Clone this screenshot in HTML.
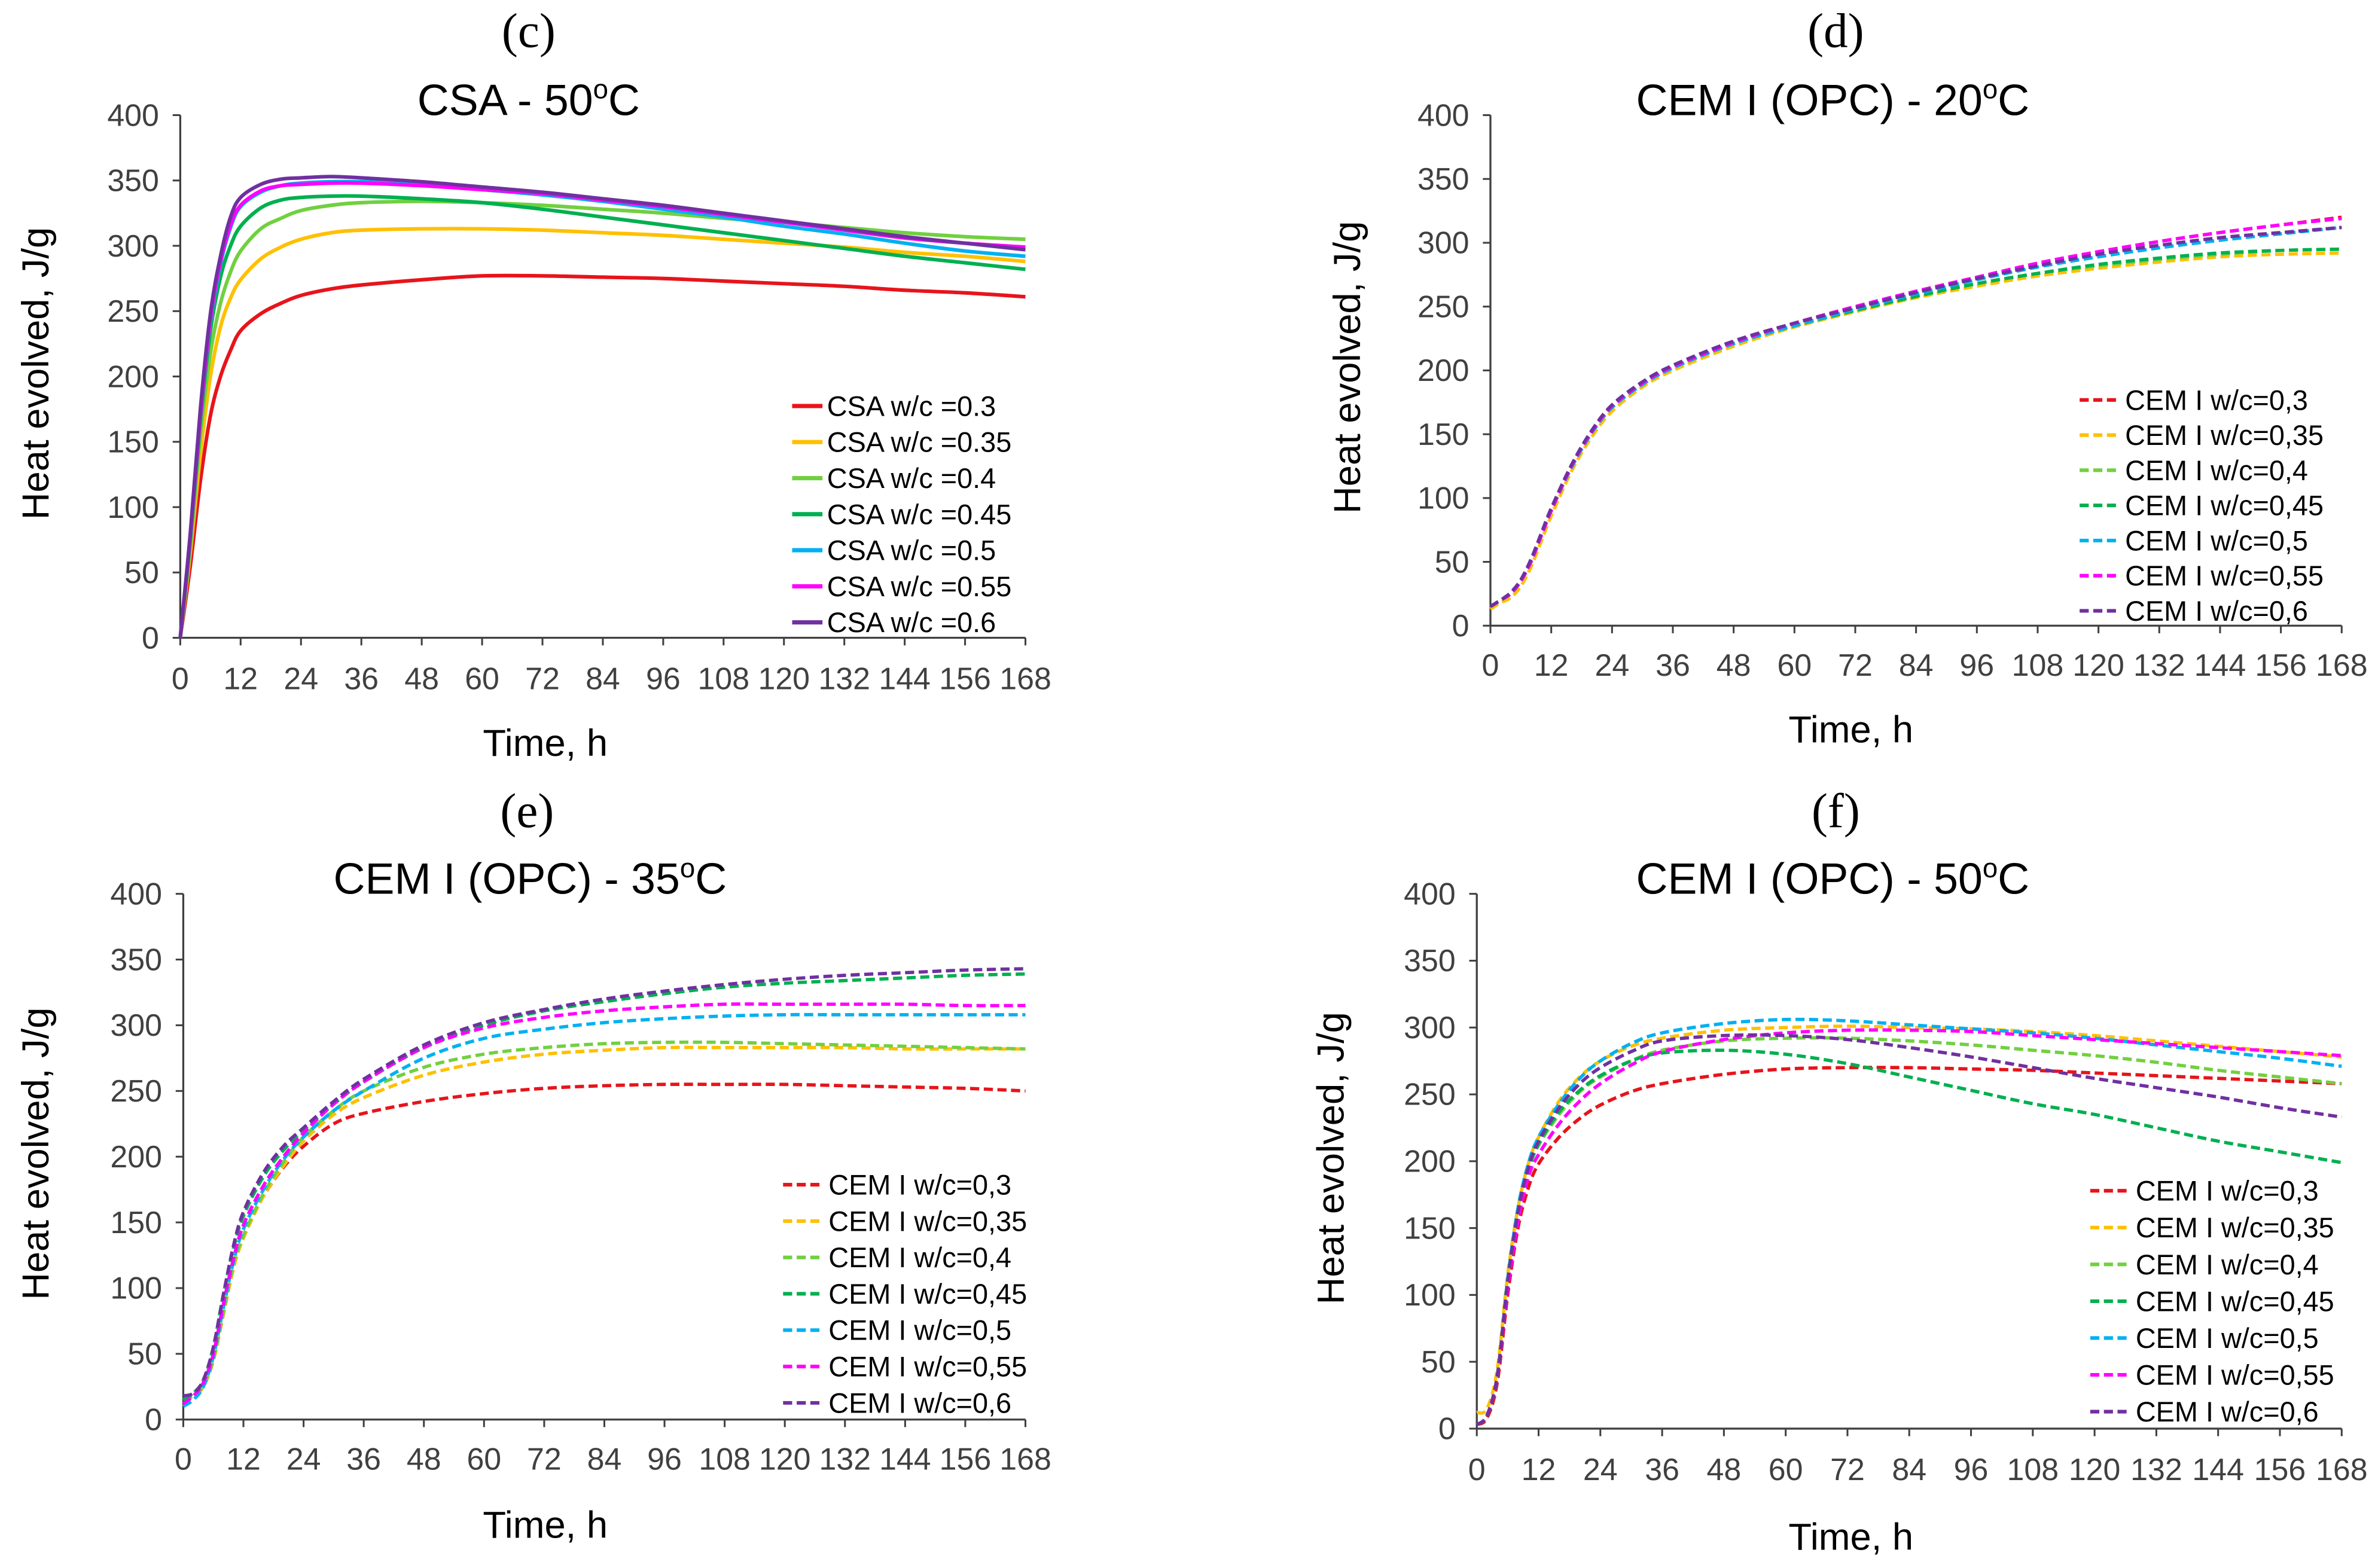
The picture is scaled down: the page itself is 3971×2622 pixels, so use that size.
<!DOCTYPE html>
<html><head><meta charset="utf-8"><style>
html,body{margin:0;padding:0;background:#fff;}
svg{display:block;}
</style></head><body>
<svg id="fig" width="3971" height="2622" viewBox="0 0 1568 1035" preserveAspectRatio="none" xmlns="http://www.w3.org/2000/svg"></svg>
<script>
const times = [0,2,4,6,8,10,12,16,20,24,30,36,48,60,72,84,96,108,120,132,144,156,168];
const xTicks = [0,12,24,36,48,60,72,84,96,108,120,132,144,156,168];
const yTicks = [0,50,100,150,200,250,300,350,400];
const colors = ["#e8141b","#ffc000","#70d040","#00b050","#00b0f0","#ff00ff","#7030a0"];
const csaNames = ["CSA w/c =0.3","CSA w/c =0.35","CSA w/c =0.4","CSA w/c =0.45","CSA w/c =0.5","CSA w/c =0.55","CSA w/c =0.6"];
const cemNames = ["CEM I w/c=0,3","CEM I w/c=0,35","CEM I w/c=0,4","CEM I w/c=0,45","CEM I w/c=0,5","CEM I w/c=0,55","CEM I w/c=0,6"];
const csa50 = [
[0,55,120,170,200,220,235,248,256,262,267,270,274,277,277,276,275,273,271,269,266,264,261],
[0,65,140,200,238,260,274,290,299,305,310,312,313,313,312,310,308,305,302,299,295,292,288],
[0,70,155,218,256,280,296,313,321,327,331,333,334,333,331,328,325,321,318,314,310,307,305],
[0,75,165,235,276,300,315,329,335,337,338,338,336,333,328,322,316,310,304,298,292,287,282],
[0,78,170,242,286,314,330,341,346,348,349,349,347,343,339,334,328,322,315,309,302,296,292],
[0,78,170,244,288,316,331,342,346,347,348,348,346,343,340,335,330,324,318,312,306,302,299],
[0,80,175,248,292,322,337,347,351,352,353,352,349,345,341,336,331,325,319,313,307,302,297]];
const opc20 = [
[15,20,25,35,50,70,90,125,152,172,190,203,222,237,250,262,273,284,293,301,308,314,320],
[13,18,22,31,46,66,86,121,148,168,187,200,219,234,246,257,266,274,280,285,289,291,292],
[15,20,25,35,50,70,90,124,151,171,189,202,221,235,247,258,268,276,282,287,291,294,295],
[15,20,25,35,50,70,90,124,151,171,189,202,221,235,247,258,268,276,283,288,292,294,295],
[15,20,25,35,50,70,90,124,151,171,189,202,221,235,248,260,271,281,289,296,302,307,312],
[15,20,25,35,50,70,90,125,152,172,190,203,222,237,250,262,273,284,293,301,308,314,319],
[15,20,26,36,52,72,92,126,153,173,191,204,223,237,249,261,272,282,291,298,304,308,312]];
const opc35 = [
[15,18,25,45,80,115,140,170,192,208,225,233,242,248,252,254,255,255,255,254,253,252,250],
[15,18,25,45,80,115,138,170,193,212,232,245,262,272,278,281,283,283,283,283,282,282,282],
[15,18,26,46,82,118,140,172,196,215,235,250,268,278,283,286,287,287,286,285,284,283,282],
[15,20,30,55,95,130,155,185,205,220,240,257,283,300,311,318,324,329,332,334,336,338,339],
[10,15,25,48,85,120,145,175,198,215,235,250,275,290,297,302,305,307,308,308,308,308,308],
[12,18,28,50,88,122,148,178,200,218,240,257,283,298,306,311,314,316,316,316,316,315,315],
[18,20,30,55,95,132,158,188,208,222,242,259,285,302,312,320,326,331,335,338,340,342,343]];
const opc50 = [
[3,8,35,100,150,180,198,218,232,242,252,258,265,269,270,270,269,268,266,264,262,260,258],
[12,15,45,115,165,198,218,245,263,275,286,292,298,300,301,300,299,297,294,290,286,282,278],
[3,10,40,110,160,193,212,235,252,263,275,283,290,292,292,290,287,283,279,274,268,263,258],
[3,10,40,110,160,193,213,237,253,264,275,281,283,280,273,263,253,243,235,225,215,207,199],
[3,10,40,112,165,198,218,243,262,275,288,296,303,306,305,302,299,296,292,287,282,277,271],
[3,10,40,105,155,188,205,228,245,258,272,282,291,296,298,298,297,294,291,288,285,282,279],
[3,10,40,110,162,195,215,240,258,270,282,290,294,294,291,285,278,270,262,255,248,240,233]];

const NS="http://www.w3.org/2000/svg";
const svg=document.getElementById('fig');
function mk(tag,attrs,parent){const e=document.createElementNS(NS,tag);for(const k in attrs)e.setAttribute(k,attrs[k]);(parent||svg).appendChild(e);return e;}

const panels=[
 {id:'c',letter:'(c)',lx:349,ly:31,title:'CSA - 50',tx:349,ty:76,x0:119,x1:677,y0:421,y1:76,data:csa50,names:csaNames,dash:false,legX:523,legY:268,legStep:23.8,xtY:455,xlX:360,xlY:499,ylX:32},
 {id:'d',letter:'(d)',lx:1212,ly:31,title:'CEM I (OPC) - 20',tx:1210,ty:76,x0:984,x1:1546,y0:413,y1:76,data:opc20,names:cemNames,dash:true,legX:1373,legY:264,legStep:23.2,xtY:446,xlX:1222,xlY:490,ylX:898},
 {id:'e',letter:'(e)',lx:348,ly:546,title:'CEM I (OPC) - 35',tx:350,ty:590,x0:121,x1:677,y0:937,y1:590,data:opc35,names:cemNames,dash:true,legX:517,legY:782,legStep:24,xtY:970,xlX:360,xlY:1015,ylX:32},
 {id:'f',letter:'(f)',lx:1212,ly:546,title:'CEM I (OPC) - 50',tx:1210,ty:590,x0:975,x1:1546,y0:943,y1:590,data:opc50,names:cemNames,dash:true,legX:1380,legY:786,legStep:24.3,xtY:977,xlX:1222,xlY:1023,ylX:887}
];

panels.forEach(p=>{
 const g=mk('g',{});
 
 
 const xs=t=>p.x0+(t/168)*(p.x1-p.x0);
 const ys=v=>p.y0-(v/400)*(p.y0-p.y1);
 const L=mk('text',{x:p.lx,y:p.ly,'text-anchor':'middle','font-family':'Liberation Serif, serif','font-size':32,fill:'#000'},g);
 L.textContent=p.letter;
 
 
 const T=mk('text',{x:p.tx,y:p.ty,'text-anchor':'middle','font-family':'Liberation Sans, sans-serif','font-size':29,fill:'#000'},g);
 
 
 T.appendChild(document.createTextNode(p.title));
 const s=mk('tspan',{'font-size':18,dy:-11},T);s.textContent='o';
 const s2=mk('tspan',{dy:11},T);s2.textContent='C';
 const ax=mk('line',{x1:p.x0,y1:p.y0,x2:p.x0,y2:p.y1,stroke:'#404040','stroke-width':1.3},g);
 
 
 const bx=mk('line',{x1:p.x0,y1:p.y0,x2:p.x1,y2:p.y0,stroke:'#404040','stroke-width':1.3},g);
 
 
 yTicks.forEach(v=>{
  mk('line',{x1:p.x0-5,x2:p.x0,y1:ys(v),y2:ys(v),stroke:'#404040','stroke-width':1.2},g);
  const t=mk('text',{x:p.x0-14,y:ys(v)+7,'text-anchor':'end','font-family':'Liberation Sans, sans-serif','font-size':20.5,fill:'#404040'},g);
  t.textContent=v;
  
  
 });
 xTicks.forEach(v=>{
  mk('line',{x1:xs(v),x2:xs(v),y1:p.y0,y2:p.y0+5,stroke:'#404040','stroke-width':1.2},g);
  const t=mk('text',{x:xs(v),y:p.xtY,'text-anchor':'middle','font-family':'Liberation Sans, sans-serif','font-size':20.5,fill:'#404040'},g);
  t.textContent=v;
  
  
 });
 const xl=mk('text',{x:p.xlX,y:p.xlY,'text-anchor':'middle','font-family':'Liberation Sans, sans-serif','font-size':25,fill:'#000'},g);
 xl.textContent='Time, h';
 
 
 const cy=(p.y0+p.y1)/2-2;
 const yl=mk('text',{x:p.ylX,y:cy,'text-anchor':'middle','font-family':'Liberation Sans, sans-serif','font-size':25,fill:'#000',transform:`rotate(-90 ${p.ylX} ${cy})`},g);
 yl.textContent='Heat evolved, J/g';
 
 
 p.data.forEach((series,i)=>{
  const pts=series.map((v,k)=>[xs(times[k]),ys(v)]);
  let d='M'+pts[0][0]+','+pts[0][1];
  for(let k=0;k<pts.length-1;k++){
   const p0=pts[k-1]||pts[k],p1=pts[k],p2=pts[k+1],p3=pts[k+2]||p2;
   const c1=[p1[0]+(p2[0]-p0[0])/6,p1[1]+(p2[1]-p0[1])/6];
   const c2=[p2[0]-(p3[0]-p1[0])/6,p2[1]-(p3[1]-p1[1])/6];
   d+=` C${c1[0]},${c1[1]} ${c2[0]},${c2[1]} ${p2[0]},${p2[1]}`;
  }
  const a={d:d,fill:'none',stroke:colors[i],'stroke-width':p.dash?2.2:2.4};
  if(p.dash)a['stroke-dasharray']='6,3';
  const path=mk('path',a,g);
  
  
  const ly=p.legY+i*p.legStep;
  const lw=p.dash?27:20;
  const ll=mk('line',{x1:p.legX,x2:p.legX+lw,y1:ly,y2:ly,stroke:colors[i],'stroke-width':p.dash?2.4:2.8},g);
  if(p.dash)ll.setAttribute('stroke-dasharray','6,3');
  
  
  const lt=mk('text',{x:p.legX+lw+3,y:ly+6.5,'font-family':'Liberation Sans, sans-serif','font-size':18.5,fill:'#000'},g);
  lt.textContent=p.names[i];
  
  
 });
});
</script>
</body></html>
